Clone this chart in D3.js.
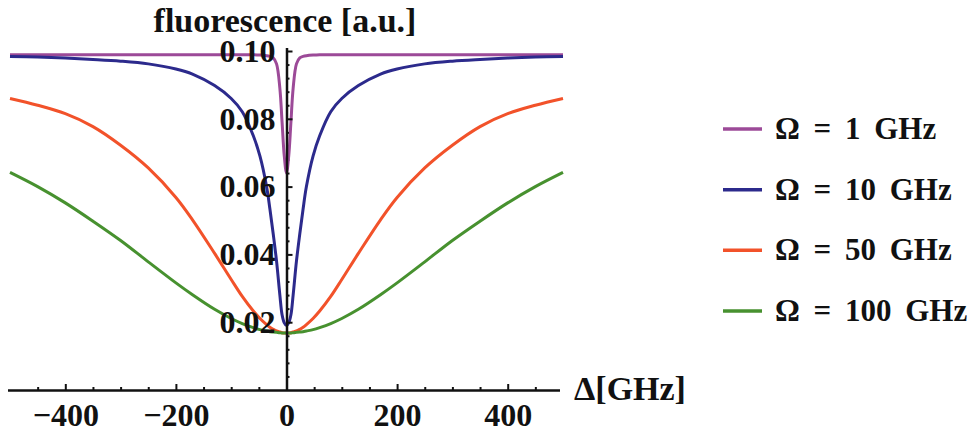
<!DOCTYPE html>
<html>
<head>
<meta charset="utf-8">
<script src="https://cdn.jsdelivr.net/npm/d3@7"></script>
<style>
	body { margin: 0; background: #fff; }
</style>
</head>
<body>
<div id="chart"></div>
<script>
// detuning grid [GHz], shared by all four curves
var delta = [-500, -450, -400, -350, -300, -250, -200, -170, -130, -100, -80, -60, -48, -36, -30, -24, -18, -12, -8, -4,
	0, 4, 8, 12, 18, 24, 30, 36, 48, 60, 80, 100, 130, 170, 200, 250, 300, 350, 400, 450, 500];

// fluorescence [a.u.]
var omega1 = [0.0989, 0.0989, 0.0989, 0.0989, 0.0989, 0.0989, 0.0989, 0.0989, 0.0989, 0.0989, 0.0989, 0.0989, 0.0988, 0.0986, 0.0984, 0.0980, 0.0962, 0.0890, 0.0790, 0.0690,
	0.0640, 0.0690, 0.0790, 0.0890, 0.0962, 0.0980, 0.0984, 0.0986, 0.0988, 0.0989, 0.0989, 0.0989, 0.0989, 0.0989, 0.0989, 0.0989, 0.0989, 0.0989, 0.0989, 0.0989, 0.0989];
var omega10 = [0.0984, 0.0982, 0.0979, 0.0975, 0.0970, 0.0962, 0.0947, 0.0932, 0.0898, 0.0860, 0.0821, 0.0750, 0.0690, 0.0600, 0.0534, 0.0460, 0.0380, 0.0280, 0.0222, 0.0198,
	0.0190, 0.0198, 0.0222, 0.0280, 0.0380, 0.0460, 0.0534, 0.0600, 0.0690, 0.0750, 0.0821, 0.0860, 0.0898, 0.0932, 0.0947, 0.0962, 0.0970, 0.0975, 0.0979, 0.0982, 0.0984];
var omega50 = [0.0860, 0.0840, 0.0815, 0.0777, 0.0722, 0.0655, 0.0568, 0.0502, 0.0403, 0.0326, 0.0276, 0.0233, 0.0211, 0.0193, 0.0185, 0.0179, 0.0174, 0.0171, 0.0169, 0.0168,
	0.0168, 0.0168, 0.0169, 0.0171, 0.0174, 0.0179, 0.0185, 0.0193, 0.0211, 0.0233, 0.0276, 0.0326, 0.0403, 0.0502, 0.0568, 0.0655, 0.0722, 0.0777, 0.0815, 0.0840, 0.0860];
var omega100 = [0.0642, 0.0600, 0.0552, 0.0498, 0.0441, 0.0378, 0.0316, 0.0281, 0.0238, 0.0211, 0.0196, 0.0184, 0.0178, 0.0174, 0.0172, 0.0171, 0.0170, 0.0169, 0.0168, 0.0168,
	0.0168, 0.0168, 0.0168, 0.0169, 0.0170, 0.0171, 0.0172, 0.0174, 0.0178, 0.0184, 0.0196, 0.0211, 0.0238, 0.0281, 0.0316, 0.0378, 0.0441, 0.0498, 0.0552, 0.0600, 0.0642];

var seriesNames = ["Ω = 1 GHz", "Ω = 10 GHz", "Ω = 50 GHz", "Ω = 100 GHz"];
var seriesValues = [omega1, omega10, omega50, omega100];
var seriesColors = ["#9c4a98", "#2c2a8c", "#f2522a", "#47912f"];

var xMajorTicks = [-400, -200, 0, 200, 400];
var yMajorTicks = [0.02, 0.04, 0.06, 0.08, 0.10];

var serif = "Liberation Serif";

var svgWidth = 977;
var svgHeight = 433;

var svg = d3.select("#chart")
	.append("svg")
	.attr("width", svgWidth)
	.attr("height", svgHeight);

var xScale = d3.scaleLinear().domain([-500, 500]).range([10, 563]);
var yScale = d3.scaleLinear().domain([0, 0.1]).range([390, 51]);

var x0 = xScale(0);

// minor ticks first, then main axes over them
var xMinor = d3.range(-450, 451, 50).filter(d => xMajorTicks.indexOf(d) < 0);
svg.append("g")
	.attr("transform", `translate(0, ${yScale(0)})`)
	.call(d3.axisBottom(xScale).tickValues(xMinor).tickSize(-3).tickSizeOuter(0).tickFormat(""))
	.call(g => g.select(".domain").remove());

var yMinor = d3.range(1, 25).map(i => i * 0.004).filter(d => Math.abs(d / 0.02 - Math.round(d / 0.02)) > 1e-6);
svg.append("g")
	.attr("transform", `translate(${x0}, 0)`)
	.call(d3.axisLeft(yScale).tickValues(yMinor).tickSize(-3).tickSizeOuter(0).tickFormat(""))
	.call(g => g.select(".domain").remove());

// curves
var line = d3.line()
	.x((d, i) => xScale(delta[i]))
	.y(d => yScale(d))
	.curve(d3.curveCatmullRom.alpha(0.5));

svg.append("g")
	.selectAll("path")
	.data(seriesValues)
	.enter()
	.append("path")
	.attr("d", d => line(d))
	.attr("fill", "none")
	.attr("stroke", (d, i) => seriesColors[i])
	.attr("stroke-width", 3);

var xAxis = svg.append("g")
	.attr("transform", `translate(0, ${yScale(0)})`)
	.call(d3.axisBottom(xScale).tickValues(xMajorTicks).tickSize(-6).tickSizeOuter(0).tickPadding(13));

xAxis.select(".domain").attr("d", `M8,0.5H560`);

var yAxis = svg.append("g")
	.attr("transform", `translate(${x0}, 0)`)
	.call(d3.axisLeft(yScale).tickValues(yMajorTicks).tickSize(-6).tickSizeOuter(0).tickPadding(11).tickFormat(d3.format(".2f")));

yAxis.select(".domain").attr("d", `M0.5,${yScale(0)}V${yScale(0.1) - 3}`);

svg.selectAll(".domain").attr("stroke", "#111").attr("stroke-width", 2.5);
svg.selectAll(".tick line").attr("stroke", "#111").attr("stroke-width", 2);
svg.selectAll("g").attr("font-family", serif);
svg.selectAll(".tick text")
	.attr("font-size", 32)
	.attr("font-weight", "bold")
	.attr("font-family", serif)
	.attr("fill", "#111");

// axis titles
svg.append("text")
	.attr("x", 285)
	.attr("y", 32)
	.attr("text-anchor", "middle")
	.attr("font-size", 34)
	.attr("font-weight", "bold")
	.attr("font-family", serif)
	.attr("fill", "#111")
	.text("fluorescence [a.u.]");

svg.append("text")
	.attr("x", 574)
	.attr("y", 400)
	.attr("font-size", 34)
	.attr("font-weight", "bold")
	.attr("font-family", serif)
	.attr("fill", "#111")
	.text("Δ[GHz]");

// legend
var legendY = d3.scalePoint().domain(seriesNames).range([129, 311]);

var legend = svg.append("g")
	.selectAll("g")
	.data(seriesNames)
	.enter()
	.append("g")
	.attr("transform", d => `translate(723, ${legendY(d)})`);

legend.append("line")
	.attr("x1", 0)
	.attr("x2", 39)
	.attr("stroke", (d, i) => seriesColors[i])
	.attr("stroke-width", 3.5);

legend.append("text")
	.attr("x", 52)
	.attr("y", 10)
	.attr("font-size", 31)
	.attr("font-weight", "bold")
	.attr("font-family", serif)
	.attr("word-spacing", 6)
	.attr("fill", "#111")
	.text(d => d);
</script>
</body>
</html>
